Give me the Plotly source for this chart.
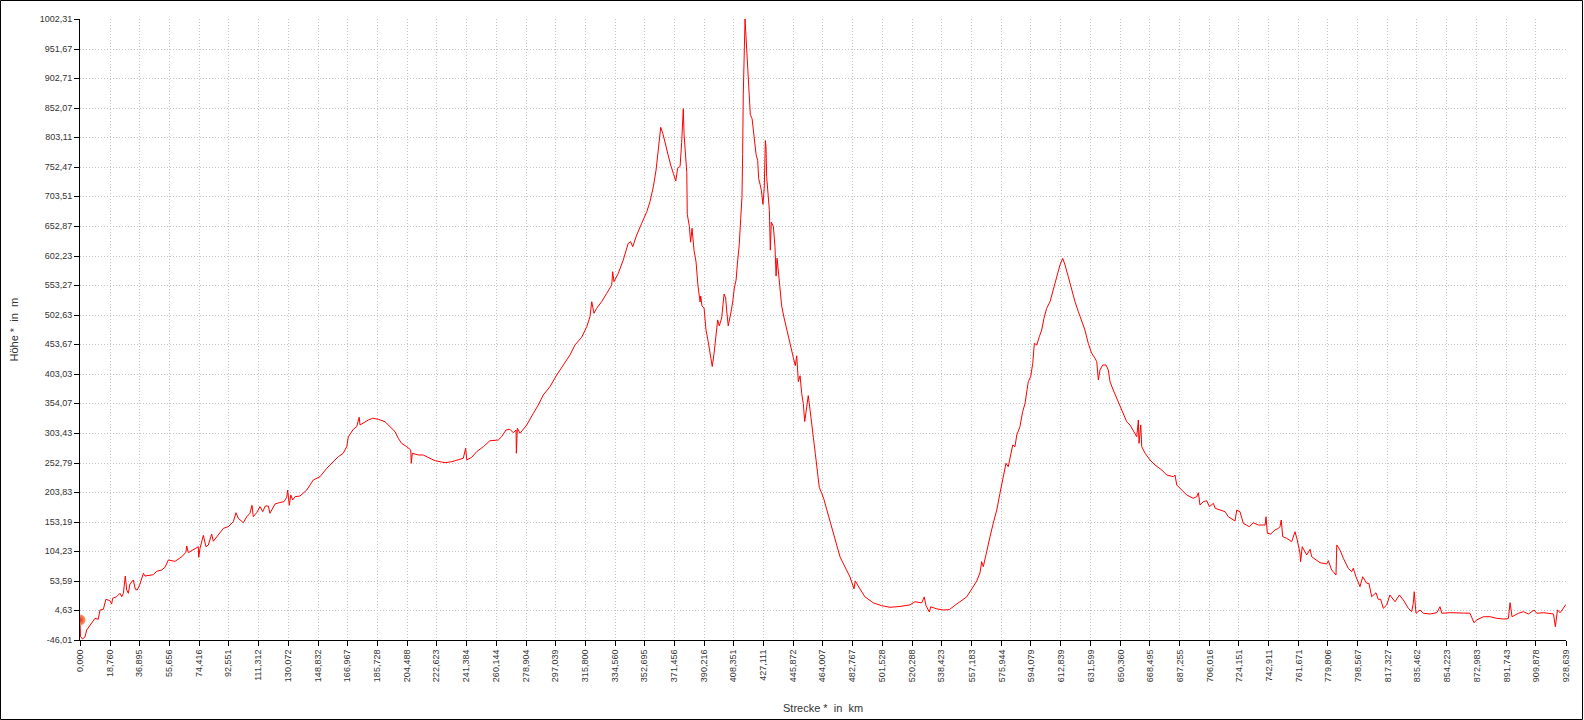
import plotly.graph_objects as go

# ---- data ----
strecke_km = [
    0.0, 0.3, 1.5, 3.1, 4.2, 7.3, 9.4, 11.4, 12.5, 14.6, 16.2, 18.7, 19.8, 20.4, 22.9, 25.0, 26.1, 27.1,
    28.3, 29.2, 30.2, 31.2, 33.3, 34.6, 35.8, 37.5, 39.6, 40.6, 42.7, 45.8, 47.9, 51.1, 53.1, 55.2, 59.4,
    63.6, 66.2, 66.7, 67.7, 71.9, 73.9, 74.2, 75.0, 77.1, 78.7, 80.2, 82.3, 83.3, 85.4, 89.6, 92.7, 95.8,
    97.5, 98.9, 102.1, 104.2, 106.2, 107.5, 108.3, 110.4, 112.5, 114.2, 115.8, 117.7, 118.7, 120.8, 121.9,
    124.5, 127.5, 129.2, 129.8, 130.8, 131.7, 132.9, 134.4, 137.5, 141.7, 145.8, 150.0, 154.2, 157.3,
    161.4, 164.5, 166.7, 167.7, 170.8, 172.9, 174.5, 175.0, 177.0, 180.2, 182.9, 186.4, 190.6, 193.7,
    196.9, 198.9, 201.0, 204.2, 206.7, 207.0, 207.7, 211.4, 214.5, 218.7, 221.9, 225.0, 228.1, 232.3,
    236.4, 239.5, 241.0, 241.7, 244.8, 247.9, 252.0, 256.2, 261.4, 263.5, 266.2, 268.7, 270.8, 272.5,
    272.7, 273.3, 275.0, 279.2, 283.3, 286.4, 289.5, 293.7, 297.9, 302.0, 306.2, 309.3, 313.5, 316.7,
    318.7, 319.8, 321.2, 322.9, 326.0, 329.2, 332.3, 332.9, 333.7, 336.4, 339.5, 342.6, 344.1, 345.4,
    347.9, 351.0, 354.2, 356.2, 358.3, 360.0, 361.4, 362.9, 364.2, 365.6, 367.6, 369.1, 370.8, 372.3,
    373.5, 375.0, 376.0, 376.6, 377.0, 377.5, 378.1, 379.2, 379.5, 380.8, 381.6, 382.5, 383.7, 385.0,
    386.2, 387.5, 387.9, 388.7, 390.0, 391.2, 392.6, 393.7, 395.1, 396.2, 397.5, 398.5, 399.5, 401.0,
    402.5, 403.5, 404.1, 405.1, 406.6, 407.9, 408.9, 410.0, 410.8, 412.0, 412.9, 413.7, 414.1, 414.5,
    415.6, 416.2, 416.8, 417.5, 418.1, 418.9, 420.0, 421.2, 422.5, 423.5, 424.1, 425.0, 425.8, 426.8,
    427.6, 428.3, 428.7, 429.1, 430.0, 430.8, 431.4, 432.0, 433.3, 434.3, 435.0, 435.6, 436.6, 437.5,
    438.5, 440.0, 441.6, 442.9, 444.3, 445.8, 447.0, 447.9, 448.9, 450.0, 451.0, 452.0, 452.9, 454.1,
    455.1, 456.2, 457.3, 458.3, 459.5, 460.8, 462.0, 463.5, 464.9, 466.6, 468.7, 470.8, 472.9, 475.0,
    478.1, 481.2, 483.7, 484.5, 487.4, 490.6, 495.8, 501.0, 506.2, 512.4, 518.7, 521.8, 526.0, 527.6,
    528.7, 530.8, 531.6, 535.4, 539.5, 543.3, 546.8, 551.0, 554.1, 557.3, 560.4, 562.4, 563.5, 564.5,
    566.6, 568.7, 570.7, 572.9, 574.9, 577.0, 578.7, 580.1, 581.6, 582.9, 584.3, 585.4, 587.4, 589.1,
    590.6, 591.6, 592.6, 594.1, 595.4, 596.4, 597.9, 599.5, 601.0, 602.4, 604.1, 606.2, 607.9, 609.3,
    610.7, 612.4, 614.1, 615.6, 617.6, 619.7, 621.8, 623.9, 626.0, 628.0, 630.1, 632.2, 634.3, 635.4,
    636.4, 637.4, 639.1, 641.2, 642.6, 643.7, 645.7, 647.9, 649.9, 652.0, 654.1, 656.2, 658.2, 660.4,
    661.4, 661.8, 662.9, 663.5, 665.6, 668.7, 671.8, 676.0, 679.1, 683.3, 684.3, 685.4, 688.5, 691.6,
    695.7, 697.9, 698.9, 699.9, 702.0, 704.1, 705.8, 708.3, 709.4, 712.5, 715.6, 717.6, 721.8, 722.9,
    724.9, 727.0, 730.7, 733.2, 736.4, 740.6, 741.2, 742.0, 744.1, 746.8, 748.9, 749.9, 750.7, 751.6,
    754.1, 757.2, 759.3, 760.7, 762.4, 762.8, 763.8, 766.6, 768.7, 769.7, 772.9, 774.9, 779.1, 780.1,
    782.2, 784.9, 785.4, 787.4, 789.5, 792.6, 794.7, 795.7, 797.4, 799.9, 801.6, 804.1, 805.5, 807.2,
    809.9, 811.3, 812.8, 814.5, 816.6, 818.6, 821.8, 824.5, 827.0, 830.1, 832.2, 833.2, 833.8, 834.9,
    837.4, 839.5, 843.7, 847.9, 849.9, 851.0, 856.2, 862.4, 868.6, 871.2, 872.8, 877.0, 881.2, 885.3,
    889.5, 892.6, 893.7, 894.9, 896.8, 898.9, 902.0, 905.2, 908.7, 910.4, 914.6, 918.7, 920.8, 922.0,
    923.3, 925.0, 926.7, 928.1, 928.6,
]

hoehe_m = [
    -12.2, -40.0, -44.3, -40.9, -29.1, -17.8, -9.4, -11.1, 4.6, 5.8, 22.7, 20.3, 14.7, 24.4, 27.1, 32.8, 27.1, 32.8,
    62.0, 38.4, 32.8, 48.5, 55.3, 39.6, 38.4, 48.5, 66.6, 62.0, 63.2, 64.2, 70.0, 72.2, 76.7, 89.0, 86.8,
    94.6, 102.0, 112.7, 101.4, 108.8, 111.5, 93.6, 108.8, 130.7, 111.5, 114.3, 132.9, 120.6, 128.4, 142.5, 145.3, 153.7,
    168.9, 159.4, 152.0, 162.1, 167.9, 181.4, 162.1, 168.9, 179.0, 170.6, 180.2, 180.2, 167.9, 179.0, 183.6,
    185.8, 187.5, 194.9, 207.2, 181.4, 198.8, 190.3, 195.9, 197.1, 207.2, 224.1, 229.7, 243.8, 252.3,
    263.4, 269.2, 280.3, 297.2, 309.7, 314.1, 330.0, 317.0, 320.8, 325.4, 328.3, 326.6, 322.5, 314.1,
    305.6, 294.5, 286.0, 280.3, 274.7, 252.3, 269.2, 266.3, 266.3, 260.7, 256.7, 255.0, 253.3, 255.0,
    257.9, 260.7, 277.6, 257.9, 262.4, 271.9, 280.3, 290.4, 291.6, 297.2, 308.5, 309.7, 303.9, 308.5,
    269.2, 311.4, 302.9, 317.0, 336.7, 350.7, 367.6, 381.6, 401.3, 418.2, 435.1, 452.0, 465.0, 482.9,
    499.8, 525.1, 505.5, 514.0, 525.1, 539.3, 553.3, 575.7, 558.8, 573.0, 595.5, 623.7, 626.4, 617.9,
    637.7, 657.4, 677.0, 693.9, 719.2, 747.4, 781.2, 819.5, 809.4, 792.5, 769.9, 755.8, 741.8, 728.8,
    750.3, 753.4, 793.7, 847.6, 850.9, 807.2, 776.9, 743.3, 672.6, 652.4, 625.5, 649.1, 612.1, 591.9,
    551.5, 524.6, 534.7, 517.9, 514.5, 477.5, 457.3, 437.1, 415.6, 437.1, 470.8, 494.3, 484.2, 497.7,
    538.1, 531.3, 511.2, 484.2, 504.4, 524.6, 548.2, 561.6, 588.5, 622.2, 665.9, 702.9, 773.5, 874.5,
    1002.3, 968.7, 941.7, 901.4, 877.8, 840.8, 834.1, 800.5, 773.5, 763.5, 733.2, 723.1, 713.0, 689.4,
    716.4, 797.1, 787.0, 736.5, 699.5, 679.4, 612.1, 659.2, 652.4, 618.8, 568.3, 598.6, 571.7, 544.8,
    517.9, 497.7, 477.5, 464.1, 443.9, 430.4, 417.0, 433.8, 390.1, 400.1, 369.9, 353.0, 322.8, 346.3,
    366.5, 343.0, 322.8, 295.9, 268.9, 242.0, 211.8, 201.7, 191.6, 174.8, 154.6, 134.4, 114.2, 94.0,
    77.2, 60.4, 40.2, 53.7, 40.2, 26.7, 16.6, 11.9, 9.2, 10.6, 13.3, 18.7, 16.6, 26.7,
    11.9, 1.2, 9.9, 6.6, 4.6, 5.3, 12.6, 20.0, 26.7, 40.2, 53.7, 67.1, 86.2, 77.7,
    105.9, 128.4, 151.0, 173.4, 201.6, 229.7, 252.3, 246.6, 263.4, 283.2, 280.3, 300.1, 314.1, 339.4,
    353.6, 370.4, 390.0, 398.5, 421.1, 454.8, 452.0, 466.0, 477.3, 497.0, 513.9, 525.1, 544.8, 556.1,
    570.1, 587.0, 598.3, 587.0, 567.3, 544.8, 525.1, 508.2, 491.3, 477.3, 454.8, 438.0, 429.5, 423.8,
    392.9, 409.8, 418.2, 418.2, 409.8, 390.0, 376.0, 362.0, 350.7, 336.7, 322.5, 316.9, 308.5, 297.2,
    325.4, 286.0, 316.9, 280.3, 269.2, 257.8, 249.4, 241.0, 232.5, 229.7, 232.5, 215.6, 207.2, 198.8,
    193.2, 195.9, 202.6, 181.9, 187.5, 189.1, 179.0, 184.7, 176.3, 173.4, 170.6, 162.1, 154.9, 173.4,
    170.6, 151.0, 145.3, 152.0, 148.1, 148.1, 162.1, 134.1, 132.9, 139.7, 142.5, 145.3, 156.6, 128.4,
    125.7, 119.9, 136.8, 122.8, 100.3, 86.2, 111.5, 97.5, 107.1, 94.6, 89.0, 84.5, 82.3, 87.9,
    72.2, 63.7, 114.4, 105.9, 91.9, 75.0, 69.3, 75.0, 60.8, 44.0, 60.8, 49.7, 49.7, 27.1,
    33.8, 22.7, 22.7, 7.5, 13.1, 30.0, 18.6, 30.0, 21.5, 7.5, 1.8, 15.9, 35.5, -0.9,
    4.6, -0.9, -2.1, 0.1, 10.2, -0.9, 0.1, -0.9, -0.9, -16.8, -12.2, -6.7, -6.7, -9.4,
    -10.6, -10.0, 17.0, -6.7, -3.8, -0.9, 1.8, -2.1, 4.6, -0.9, 0.1, -2.1, -2.1, -23.6,
    4.6, 0.1, 7.5, 11.4, 14.0,
]

start_km = [0.0]
start_m = [-12.2]

x_tick_labels = [
    "0,000", "18,760", "36,895", "55,656", "74,416", "92,551", "111,312", "130,072", "148,832",
    "166,967", "185,728", "204,488", "222,623", "241,384", "260,144", "278,904", "297,039",
    "315,800", "334,560", "352,695", "371,456", "390,216", "408,351", "427,111", "445,872",
    "464,007", "482,767", "501,528", "520,288", "538,423", "557,183", "575,944", "594,079",
    "612,839", "631,599", "650,360", "668,495", "687,255", "706,016", "724,151", "742,911",
    "761,671", "779,806", "798,567", "817,327", "835,462", "854,223", "872,983", "891,743",
    "909,878", "928,639",
]
y_tick_labels = [
    "-46,01", "4,63", "53,59", "104,23", "153,19", "203,83", "252,79", "303,43", "354,07",
    "403,03", "453,67", "502,63", "553,27", "602,23", "652,87", "703,51", "752,47", "803,11",
    "852,07", "902,71", "951,67", "1002,31",
]

x_title = "Strecke *\u00a0 in\u00a0 km"
y_title = "Höhe *\u00a0 in\u00a0 m"

# ---- figure ----
def num(s):
    return float(s.replace(",", "."))

x_vals = [num(s) for s in x_tick_labels]
y_vals = [num(s) for s in y_tick_labels]

W, H = 1584, 720
ML, MR, MT, MB = 80, 18, 19, 80
PW, PH = W - ML - MR, H - MT - MB

font_family = "Liberation Sans, Arial, sans-serif"

fig = go.Figure()
fig.add_trace(go.Scatter(
    x=strecke_km, y=hoehe_m, mode="lines",
    line=dict(color="#ff0000", width=1),
    hoverinfo="skip", showlegend=False,
))
fig.add_trace(go.Scatter(
    x=start_km, y=start_m, mode="markers",
    marker=dict(size=11, color="#ff9a70",
                gradient=dict(type="radial", color="#e8300a"),
                line=dict(width=0)),
    hoverinfo="skip", showlegend=False,
))

axis_common = dict(
    showline=True, linecolor="#000000", linewidth=1,
    ticks="outside", ticklen=5, tickcolor="#000000", tickwidth=1,
    showgrid=True, gridcolor="#c4c4c4", gridwidth=1, griddash="1px,2px",
    zeroline=False,
    tickfont=dict(family=font_family, size=9, color="#333333"),
    fixedrange=True,
)

fig.update_layout(
    width=W, height=H,
    margin=dict(l=ML, r=MR, t=MT, b=MB, pad=0),
    paper_bgcolor="#ffffff", plot_bgcolor="#ffffff",
    showlegend=False,
    xaxis=dict(range=[x_vals[0], x_vals[-1]], tickmode="array",
               tickvals=x_vals, ticktext=x_tick_labels, tickangle=-90,
               automargin=False, **axis_common),
    yaxis=dict(range=[y_vals[0], y_vals[-1]], tickmode="array",
               tickvals=y_vals, ticktext=y_tick_labels,
               automargin=False, **axis_common),
    annotations=[
        dict(text=x_title, xref="paper", yref="paper", x=0.5, y=0,
             xanchor="center", yanchor="middle", yshift=-68, showarrow=False,
             font=dict(family=font_family, size=11, color="#333333")),
        dict(text=y_title, xref="paper", yref="paper", x=0, y=0.5,
             xanchor="center", yanchor="middle", xshift=-67, textangle=-90,
             showarrow=False,
             font=dict(family=font_family, size=11, color="#333333")),
    ],
    shapes=[
        dict(type="rect", xref="paper", yref="paper",
             x0=(-ML + 0.5) / PW, x1=(PW + MR - 1.5) / PW,
             y0=(-MB + 0.5) / PH, y1=(PH + MT - 0.5) / PH,
             line=dict(color="#000000", width=1), fillcolor="rgba(0,0,0,0)"),
    ],
)

fig.write_html(
    "out.html",
    config={"displayModeBar": False, "staticPlot": True},
    post_script="document.body.style.margin='0';document.body.style.padding='0';",
)
